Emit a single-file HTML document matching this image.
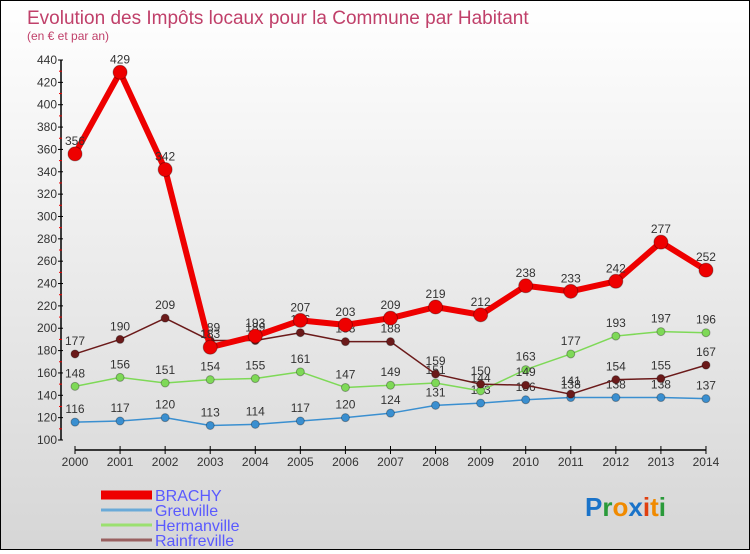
<!DOCTYPE html>
<html><head><meta charset="utf-8"><style>
body{margin:0;width:750px;height:550px;overflow:hidden;font-family:"Liberation Sans",sans-serif}
#wrap{position:relative;width:748px;height:548px;border:1px solid #000;background:linear-gradient(#fff,#d6d6d6)}
</style></head><body>
<div id="wrap">
<svg id="chart" width="748" height="548"></svg>
</div>
<script>
const years=[2000,2001,2002,2003,2004,2005,2006,2007,2008,2009,2010,2011,2012,2013,2014];
const brachy=[356,429,342,183,193,207,203,209,219,212,238,233,242,277,252];
const greuville=[116,117,120,113,114,117,120,124,131,133,136,138,138,138,137];
const hermanville=[148,156,151,154,155,161,147,149,151,144,163,177,193,197,196];
const rainfreville=[177,190,209,189,189,196,188,188,159,150,149,141,154,155,167];
const yTicks=[100,120,140,160,180,200,220,240,260,280,300,320,340,360,380,400,420,440];
const NS="http://www.w3.org/2000/svg",svg=document.getElementById('chart');
const X=i=>74+i*45.07, Y=v=>439-(v-100)*1.1176;
function mk(t,a,p){const e=document.createElementNS(NS,t);for(const k in a)e.setAttribute(k,a[k]);(p||svg).appendChild(e);return e;}
let t=mk('text',{x:26,y:23,'font-size':19,fill:'#c0406a'});t.textContent='Evolution des Impôts locaux pour la Commune par Habitant';

t=mk('text',{x:26,y:39,'font-size':12,fill:'#c0406a'});t.textContent='(en € et par an)';

let ax=mk('line',{x1:60,y1:Y(440),x2:60,y2:Y(100),stroke:'#000','stroke-width':1.5});

yTicks.forEach(v=>{mk('line',{x1:57,y1:Y(v),x2:62,y2:Y(v),stroke:'#000'});
 if(v<440)mk('line',{x1:58,y1:Y(v+10),x2:61,y2:Y(v+10),stroke:'#e00'});
 const l=mk('text',{x:56,y:Y(v)+4,'font-size':12,fill:'#333','text-anchor':'end'});l.textContent=v;
 });
ax=mk('line',{x1:74,y1:449,x2:X(14),y2:449,stroke:'#000','stroke-width':1.5});

years.forEach((y,i)=>{mk('line',{x1:X(i),y1:445,x2:X(i),y2:453,stroke:'#000'});
 const l=mk('text',{x:X(i),y:465,'font-size':12,fill:'#333','text-anchor':'middle'});l.textContent=y;
 });
function series(d,col,w,r,name,fs){const g=mk('g',{});
 
 mk('polyline',{points:d.map((v,i)=>X(i)+','+Y(v)).join(' '),fill:'none',stroke:col,'stroke-width':w,'stroke-linejoin':'round'},g);
 d.forEach((v,i)=>{const c=mk('circle',{cx:X(i),cy:Y(v),r:r,fill:col,stroke:'rgba(0,0,0,0.3)'},g);
  
  const l=mk('text',{x:X(i),y:Y(v)-9,'font-size':fs,fill:'#333','text-anchor':'middle'},g);l.textContent=v;});}
series(greuville,'#3a8fd0',1.5,4,'greuville',12);
series(hermanville,'#7ed957',1.5,4,'hermanville',12);
series(rainfreville,'#6b1a1a',1.5,4,'rainfreville',12);
series(brachy,'#ee0000',6,7,'brachy',12);
const names=['BRACHY','Greuville','Hermanville','Rainfreville'],cols=['#ee0000','#6aaad8','#9be070','#996060'],ws=[9,3,3,3];
names.forEach((n,i)=>{const g=mk('g',{});
 mk('line',{x1:100,y1:494+i*15,x2:151,y2:494+i*15,stroke:cols[i],'stroke-width':ws[i]},g);
 const l=mk('text',{x:154,y:500+i*15,'font-size':16,fill:'#5a5aff'},g);l.textContent=n;});
const logo=mk('text',{x:584,y:515,'font-size':26,'font-weight':'bold'});

[['P','#1a73c9'],['r','#2a9a3a'],['o','#f08a00'],['x','#1a73c9'],['i','#e04010'],['t','#f08a00'],['i','#2a9a3a']].forEach(([c,f])=>{const s=mk('tspan',{fill:f},logo);s.textContent=c;});
</script>
</body></html>
